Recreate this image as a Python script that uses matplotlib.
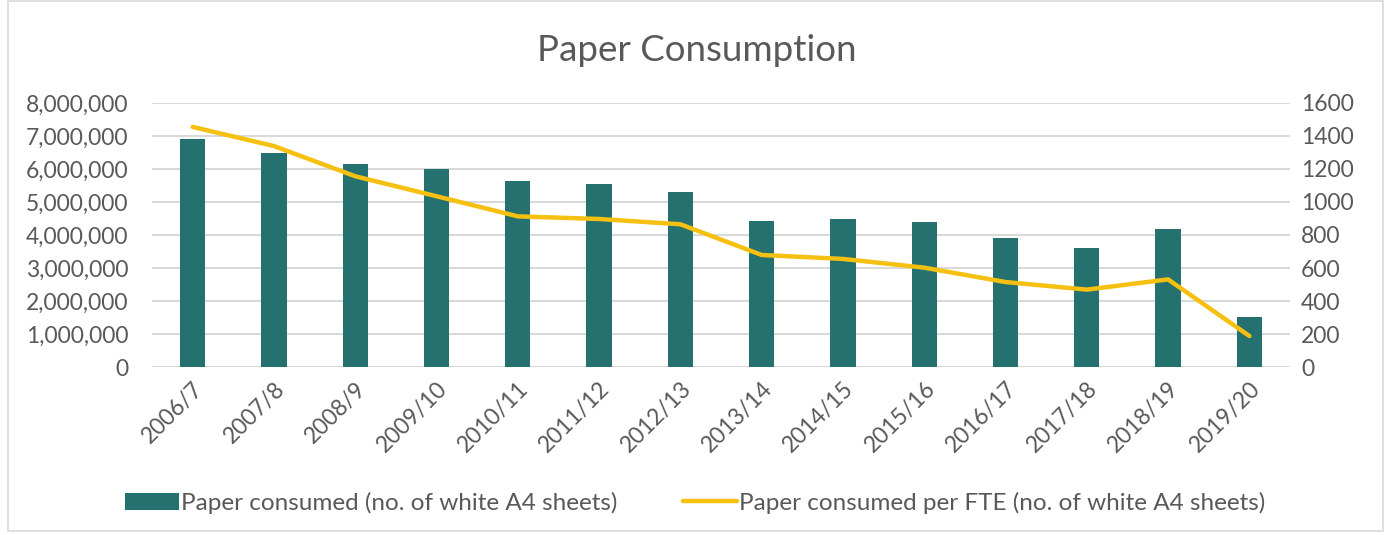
import matplotlib
matplotlib.use("Agg")
import matplotlib.pyplot as plt
from matplotlib.patches import Rectangle
from matplotlib.ticker import FuncFormatter

plt.rcParams['font.family'] = ['Lato', 'DejaVu Sans']

years = ["2006/7", "2007/8", "2008/9", "2009/10", "2010/11", "2011/12", "2012/13",
         "2013/14", "2014/15", "2015/16", "2016/17", "2017/18", "2018/19", "2019/20"]
paper_total = [6900000, 6490000, 6150000, 6010000, 5640000, 5550000, 5300000,
               4420000, 4480000, 4380000, 3900000, 3600000, 4180000, 1530000]
paper_per_fte = [1455, 1339, 1156, 1035, 913, 897, 865,
                 679, 655, 602, 515, 469, 531, 188]

bar_color = "#24716F"
line_color = "#F5C00F"
text_color = "#595959"
grid_color = "#D9D9D9"

fig = plt.figure(figsize=(13.91, 5.35), dpi=100)
ax = fig.add_axes([0.1093, 0.314, 0.8181, 0.4935])
ax2 = ax.twinx()

x = range(len(years))
bars = ax.bar(x, paper_total, width=0.31, color=bar_color, zorder=2,
              label="Paper consumed (no. of white A4 sheets)")
line, = ax2.plot(x, paper_per_fte, color=line_color, linewidth=3.2,
                 solid_capstyle="round", zorder=3,
                 label="Paper consumed per FTE (no. of white A4 sheets)")

ax.set_ylim(0, 8000000)
ax.set_yticks(range(0, 8000001, 1000000))
ax.yaxis.set_major_formatter(FuncFormatter(lambda v, p: f"{int(v):,}"))
ax2.set_ylim(0, 1600)
ax2.set_yticks(range(0, 1601, 200))
ax.set_xlim(-0.5, len(years) - 0.5)

ax.set_xticks(list(x))
ax.set_xticklabels(years, rotation=45, ha="right", rotation_mode="anchor")

ax.yaxis.grid(True, color=grid_color, linewidth=1.5, zorder=0)
ax.set_axisbelow(True)
for a in (ax, ax2):
    for s in a.spines.values():
        s.set_visible(False)
    a.tick_params(length=0, labelsize=16.5, colors=text_color)
ax.tick_params(axis="x", pad=8)
ax.tick_params(axis="y", pad=17)
ax2.tick_params(axis="y", pad=8)

fig.text(0.501, 0.905, "Paper Consumption", ha="center", va="center",
         fontsize=26.5, color=text_color)

fig.legend(handles=[bars, line], loc="center", bbox_to_anchor=(0.5, 0.06),
           ncol=2, frameon=False, fontsize=17.5, labelcolor=text_color,
           handlelength=2.2, handletextpad=0.1, columnspacing=2.7)

fig.patches.append(Rectangle((0.006, 0.008), 0.988, 0.99, transform=fig.transFigure,
                             fill=False, edgecolor=grid_color, linewidth=1.2))

fig.savefig("out.png", dpi=100)
